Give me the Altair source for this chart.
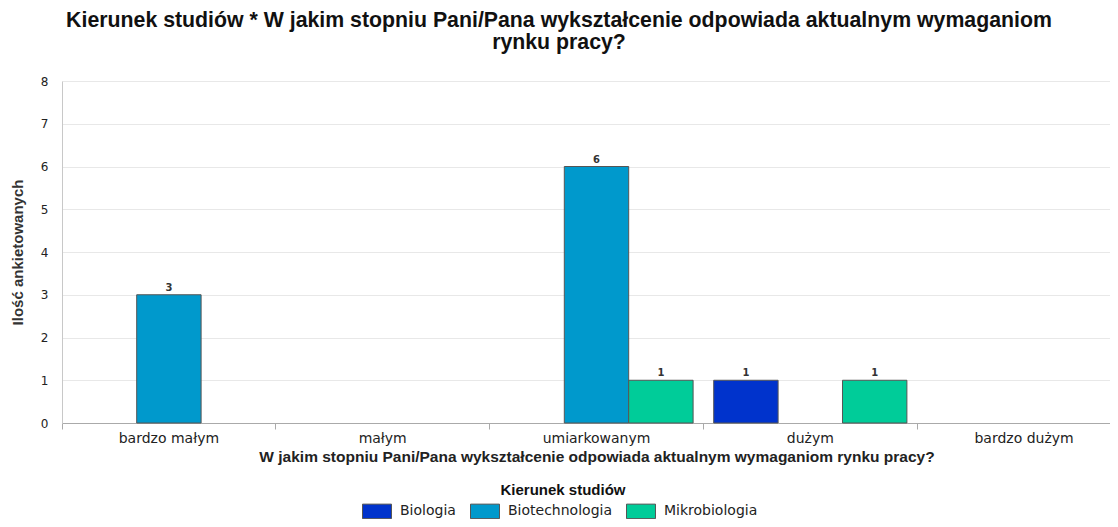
import altair as alt
import pandas as pd

categories = ["bardzo małym", "małym", "umiarkowanym", "dużym", "bardzo dużym"]
series = ["Biologia", "Biotechnologia", "Mikrobiologia"]
biologia = [0, 0, 0, 1, 0]
biotechnologia = [3, 0, 6, 0, 0]
mikrobiologia = [0, 0, 1, 1, 0]
colors = ["#0033CC", "#0099CC", "#00CC99"]

title_lines = [
    "Kierunek studiów * W jakim stopniu Pani/Pana wykształcenie odpowiada aktualnym wymaganiom",
    "rynku pracy?",
]
x_title = "W jakim stopniu Pani/Pana wykształcenie odpowiada aktualnym wymaganiom rynku pracy?"
y_title = "Ilość ankietowanych"
legend_title = "Kierunek studiów"

rows = []
for s, vals in zip(series, [biologia, biotechnologia, mikrobiologia]):
    for c, v in zip(categories, vals):
        rows.append({"cat": c, "series": s, "value": v})
df = pd.DataFrame(rows)

band_range = 1069

x_enc = alt.X(
    "cat:N",
    sort=categories,
    scale=alt.Scale(domain=categories, paddingInner=0, paddingOuter=0, range=[0, band_range]),
    axis=alt.Axis(
        title=x_title,
        labelAngle=0,
        bandPosition=0,
        ticks=True,
        tickSize=6,
        tickColor="#aaaaaa",
        domainColor="#aaaaaa",
        grid=False,
        labelFont="DejaVu Sans",
        labelFontSize=14,
        labelColor="#222222",
        labelPadding=2,
        titleFont="Liberation Sans",
        titleFontWeight="bold",
        titleFontSize=15.5,
        titleColor="#222222",
        titlePadding=4,
    ),
)
xo_enc = alt.XOffset("series:N", sort=series, scale=alt.Scale(domain=series, paddingInner=0, paddingOuter=0.16))
y_enc = alt.Y(
    "value:Q",
    scale=alt.Scale(domain=[0, 8], nice=False),
    axis=alt.Axis(
        title=y_title,
        values=list(range(0, 9)),
        ticks=False,
        grid=True,
        gridColor="#e8e8e8",
        domainColor="#c8c8c8",
        labelFont="DejaVu Sans",
        labelFontSize=12,
        labelColor="#222222",
        labelPadding=14,
        titleFont="Liberation Sans",
        titleFontWeight="bold",
        titleFontSize=15,
        titleColor="#333333",
        titlePadding=15,
    ),
)

base = alt.Chart(df).transform_filter("datum.value > 0")

bars = base.mark_bar(stroke="#555555", strokeWidth=1).encode(
    x=x_enc,
    xOffset=xo_enc,
    y=y_enc,
    fill=alt.Fill(
        "series:N",
        sort=series,
        scale=alt.Scale(domain=series, range=colors),
        legend=alt.Legend(
            title=legend_title,
            orient="none",
            legendX=307,
            legendY=402,
            direction="horizontal",
            titleAnchor="middle",
            titleFont="Liberation Sans",
            titleFontWeight="bold",
            titleFontSize=15,
            titleColor="#111111",
            titlePadding=5,
            labelFont="DejaVu Sans",
            labelFontSize=14,
            labelColor="#222222",
            labelOffset=15,
            columnPadding=12,
            symbolType="M-2,-1L2,-1L2,1L-2,1Z",
            symbolSize=210,
            symbolStrokeColor="#555555",
            symbolStrokeWidth=1,
            symbolOpacity=1,
        ),
    ),
)

labels = base.mark_text(
    baseline="bottom", dy=-2, font="DejaVu Sans", fontWeight="bold", fontSize=10, color="#333333"
).encode(x=x_enc, xOffset=xo_enc, y=y_enc, text="value:Q")

chart = (
    alt.layer(bars, labels)
    .properties(
        width=1048,
        height=342,
        autosize=alt.AutoSizeParams(type="none"),
        padding={"left": 54, "top": 73, "right": 0, "bottom": 96},
        title=alt.TitleParams(
            text=title_lines,
            anchor="middle",
            dx=-27,
            offset=22,
            font="Liberation Sans",
            fontWeight="bold",
            fontSize=21.3,
            lineHeight=22,
            color="#111111",
        ),
    )
    .configure_view(stroke=None)
)

chart.save("out.html", embed_options={"renderer": "svg", "actions": False})
